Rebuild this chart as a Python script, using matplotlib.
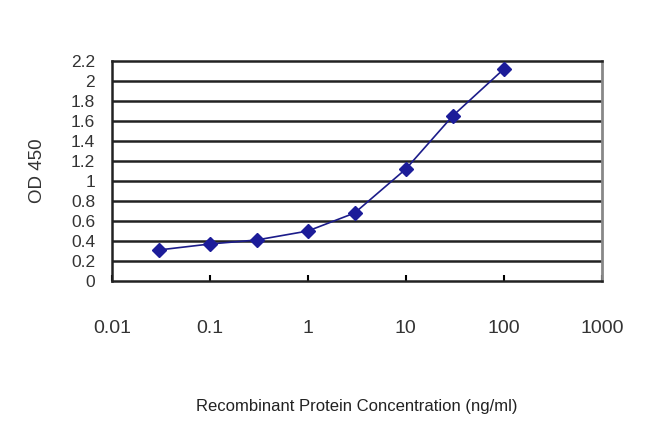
import numpy as np
import matplotlib.pyplot as plt

plt.rcParams['font.family'] = ['Liberation Sans', 'DejaVu Sans']

# concentration (ng/ml) and OD 450 readings
conc = [0.03, 0.1, 0.3, 1, 3, 10, 30, 100]
od450 = [0.31, 0.37, 0.41, 0.50, 0.68, 1.12, 1.65, 2.12]

xticks = [0.01, 0.1, 1, 10, 100, 1000]
xticklabels = ['0.01', '0.1', '1', '10', '100', '1000']
yticks = np.round(np.arange(0, 2.21, 0.2), 1)
yticklabels = ['0', '0.2', '0.4', '0.6', '0.8', '1', '1.2', '1.4', '1.6', '1.8', '2', '2.2']

fig = plt.figure(figsize=(6.5, 4.34), dpi=100)
ax = fig.add_axes([0.172, 0.3525, 0.754, 0.507])

ax.set_xscale('log')
ax.set_xlim(0.01, 1000)
ax.set_ylim(0, 2.2)

for yv in yticks[1:-1]:
    ax.axhline(yv, color='#222222', linewidth=1.8, zorder=1)

ax.plot(conc, od450, color='#1c1c8a', linewidth=1.2, marker='D',
        markersize=7, markerfacecolor='#1c1c99', markeredgecolor='#1c1c99', zorder=3)

ax.set_xticks(xticks)
ax.set_xticklabels(xticklabels, fontsize=14, color='#333333')
ax.xaxis.set_minor_locator(plt.NullLocator())
ax.tick_params(axis='x', direction='in', length=4, pad=28, width=1.5)
ax.set_yticks(yticks)
ax.set_yticklabels(yticklabels, fontsize=12.5, color='#333333')
ax.tick_params(axis='y', length=0, pad=12)

for side in ['left', 'bottom', 'top']:
    ax.spines[side].set_color('#222222')
    ax.spines[side].set_linewidth(1.8)
ax.spines['right'].set_color('#888888')
ax.spines['right'].set_linewidth(2)

ax.set_ylabel('OD 450', fontsize=13.5, color='#333333', labelpad=18)
ax.set_xlabel('Recombinant Protein Concentration (ng/ml)', fontsize=12,
              color='#222222', labelpad=45)

fig.savefig('out.png', dpi=100)
